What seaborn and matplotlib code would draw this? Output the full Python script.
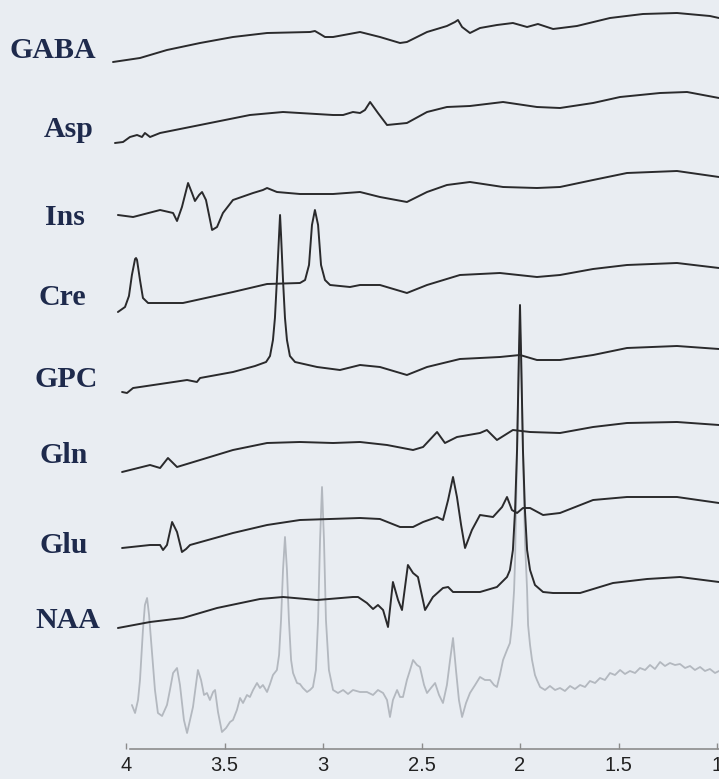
import matplotlib
matplotlib.use("Agg")
import matplotlib.pyplot as plt
import seaborn as sns
import pandas as pd

# ---- fitted metabolite basis traces (chemical shift in ppm, intensity a.u.) ----
gaba_ppm = [4.066, 3.929, 3.792, 3.624, 3.457, 3.284, 3.066, 3.041, 3.015, 2.990, 2.949, 2.812,
            2.711, 2.609, 2.574, 2.472, 2.371, 2.330, 2.315, 2.294, 2.254, 2.203, 2.117, 2.036,
            1.964, 1.909, 1.832, 1.711, 1.543, 1.376, 1.203, 1.036, 0.990]
gaba_amp = [0, 4, 12, 19, 25, 29, 30, 31, 28, 25, 25, 30, 25, 19, 20, 30, 36, 40, 42, 35, 29,
            34, 37, 39, 35, 38, 33, 36, 44, 48, 49, 46, 44]

asp_ppm = [4.056, 4.015, 3.980, 3.944, 3.919, 3.904, 3.878, 3.827, 3.624, 3.371, 3.203, 2.949,
           2.898, 2.848, 2.812, 2.787, 2.761, 2.721, 2.675, 2.574, 2.472, 2.371, 2.254, 2.086,
           1.914, 1.797, 1.629, 1.492, 1.289, 1.152, 0.990]
asp_amp = [0, 1, 6, 8, 6, 10, 6, 10, 18, 28, 31, 28, 28, 31, 30, 33, 41, 30, 18, 20, 31, 36,
           37, 41, 36, 35, 40, 46, 50, 51, 45]

ins_ppm = [4.041, 3.964, 3.827, 3.761, 3.741, 3.716, 3.685, 3.665, 3.650, 3.629, 3.614, 3.594,
           3.563, 3.538, 3.508, 3.457, 3.355, 3.305, 3.284, 3.234, 3.117, 2.949, 2.812, 2.711,
           2.574, 2.472, 2.371, 2.254, 2.086, 1.914, 1.797, 1.629, 1.457, 1.203, 0.990]
ins_amp = [0, -2, 5, 2, -6, 8, 32, 22, 14, 20, 23, 15, -15, -12, 2, 15, 22, 25, 27, 23, 21, 21,
           23, 18, 13, 23, 30, 33, 28, 27, 28, 35, 42, 44, 38]

cre_ppm = [4.041, 4.005, 3.985, 3.970, 3.954, 3.949, 3.944, 3.929, 3.914, 3.888, 3.711, 3.457,
           3.284, 3.117, 3.091, 3.071, 3.056, 3.041, 3.025, 3.010, 2.990, 2.964, 2.863, 2.812,
           2.711, 2.574, 2.472, 2.305, 2.102, 1.914, 1.797, 1.629, 1.457, 1.203, 0.990]
cre_amp = [0, 5, 16, 37, 53, 54, 52, 32, 14, 9, 9, 20, 28, 29, 32, 47, 87, 102, 87, 47, 32, 27,
           25, 27, 27, 19, 27, 37, 39, 35, 37, 43, 47, 49, 44]

gpc_ppm = [4.020, 3.995, 3.964, 3.929, 3.792, 3.690, 3.640, 3.624, 3.457, 3.345, 3.289, 3.269,
           3.254, 3.244, 3.234, 3.223, 3.218, 3.213, 3.203, 3.193, 3.183, 3.168, 3.142, 3.030,
           2.914, 2.812, 2.711, 2.574, 2.472, 2.305, 2.102, 2.000, 1.914, 1.797, 1.629, 1.457,
           1.203, 0.990]
gpc_amp = [0, -1, 4, 5, 9, 12, 10, 14, 20, 26, 30, 36, 52, 74, 112, 157, 177, 157, 112, 74, 52,
           36, 30, 25, 22, 27, 25, 17, 25, 33, 35, 37, 32, 32, 37, 44, 46, 43]

gln_ppm = [4.020, 3.878, 3.827, 3.787, 3.741, 3.624, 3.457, 3.284, 3.117, 2.949, 2.812, 2.675,
           2.543, 2.492, 2.421, 2.381, 2.320, 2.203, 2.168, 2.117, 2.036, 1.949, 1.797, 1.629,
           1.457, 1.203, 0.990]
gln_amp = [0, 7, 4, 14, 5, 12, 22, 29, 30, 29, 30, 27, 22, 25, 40, 29, 35, 39, 42, 32, 42, 40,
           39, 45, 49, 50, 47]

glu_ppm = [4.020, 3.878, 3.827, 3.812, 3.792, 3.766, 3.741, 3.716, 3.695, 3.675, 3.457, 3.284,
           3.117, 2.812, 2.711, 2.609, 2.543, 2.492, 2.421, 2.391, 2.365, 2.340, 2.320, 2.299,
           2.279, 2.244, 2.203, 2.137, 2.091, 2.066, 2.041, 2.015, 1.985, 1.949, 1.883, 1.797,
           1.629, 1.457, 1.203, 0.990]
glu_amp = [0, 3, 3, -2, 3, 26, 16, -4, -1, 3, 15, 23, 28, 30, 29, 21, 21, 26, 31, 28, 48, 71,
           51, 23, 0, 18, 33, 31, 41, 51, 38, 35, 40, 40, 33, 35, 48, 51, 51, 45]

naa_ppm = [4.041, 3.878, 3.711, 3.538, 3.320, 3.203, 3.030, 2.848, 2.822, 2.777, 2.746, 2.721,
           2.695, 2.670, 2.645, 2.619, 2.599, 2.569, 2.543, 2.518, 2.482, 2.442, 2.391, 2.365,
           2.340, 2.203, 2.117, 2.066, 2.051, 2.036, 2.025, 2.015, 2.010, 2.005, 2.000, 1.995,
           1.990, 1.985, 1.975, 1.964, 1.949, 1.924, 1.883, 1.832, 1.695, 1.528, 1.355, 1.188,
           0.990]
naa_amp = [0, 6, 10, 20, 29, 31, 28, 31, 31, 25, 19, 23, 18, 1, 46, 28, 18, 63, 55, 51, 18, 31,
           40, 41, 36, 36, 41, 51, 58, 78, 118, 178, 228, 278, 323, 278, 228, 178, 118, 78, 58,
           43, 36, 35, 35, 45, 49, 51, 46]

# ---- measured in-vivo spectrum (grey) ----
meas_ppm = [3.970, 3.954, 3.939, 3.929, 3.914, 3.904, 3.893, 3.883, 3.868, 3.853, 3.838, 3.817,
            3.792, 3.777, 3.761, 3.741, 3.726, 3.706, 3.690, 3.675, 3.660, 3.645, 3.635, 3.619,
            3.604, 3.589, 3.574, 3.558, 3.548, 3.533, 3.513, 3.492, 3.472, 3.457, 3.437, 3.421,
            3.406, 3.386, 3.371, 3.355, 3.335, 3.320, 3.305, 3.284, 3.269, 3.254, 3.234, 3.223,
            3.213, 3.203, 3.193, 3.183, 3.173, 3.162, 3.152, 3.132, 3.117, 3.102, 3.081, 3.066,
            3.051, 3.036, 3.025, 3.015, 3.005, 2.995, 2.985, 2.970, 2.949, 2.924, 2.898, 2.873,
            2.848, 2.812, 2.777, 2.746, 2.721, 2.695, 2.675, 2.660, 2.645, 2.624, 2.609, 2.594,
            2.574, 2.558, 2.543, 2.523, 2.508, 2.487, 2.472, 2.452, 2.431, 2.411, 2.391, 2.371,
            2.355, 2.340, 2.325, 2.310, 2.294, 2.274, 2.254, 2.228, 2.203, 2.178, 2.152, 2.132,
            2.117, 2.102, 2.086, 2.066, 2.051, 2.041, 2.030, 2.025, 2.015, 2.010, 2.005, 2.000,
            1.995, 1.990, 1.985, 1.975, 1.964, 1.959, 1.949, 1.939, 1.924, 1.914, 1.898, 1.873,
            1.848, 1.822, 1.797, 1.772, 1.746, 1.721, 1.695, 1.670, 1.645, 1.619, 1.594, 1.569,
            1.543, 1.518, 1.492, 1.467, 1.442, 1.416, 1.391, 1.365, 1.340, 1.315, 1.289, 1.264,
            1.239, 1.213, 1.188, 1.162, 1.137, 1.112, 1.086, 1.061, 1.036, 1.010, 0.990]
meas_amp = [2, -6, 7, 27, 77, 102, 109, 92, 54, 17, -6, -9, 2, 17, 34, 39, 22, -13, -26, -13, 0,
            22, 37, 27, 12, 14, 7, 15, 17, -5, -25, -21, -15, -13, -3, 9, 4, 12, 10, 17, 24, 19,
            22, 15, 23, 32, 37, 52, 87, 137, 170, 137, 87, 47, 34, 24, 23, 19, 15, 17, 20, 37, 87,
            167, 220, 167, 87, 37, 17, 14, 17, 13, 17, 15, 15, 12, 17, 14, 7, -10, 7, 17, 10, 10,
            27, 37, 47, 42, 40, 22, 14, 19, 24, 12, 4, 22, 47, 69, 37, 7, -10, 4, 14, 22, 30, 27,
            27, 22, 20, 32, 47, 57, 64, 82, 117, 147, 257, 307, 357, 377,
            357, 307, 257, 167, 117, 82, 62, 47, 32, 27, 20, 17,
            21, 17, 19, 16, 21, 18, 22, 20, 26, 24, 29, 27, 34, 32, 37, 33, 36, 34, 39, 37,
            42, 38, 45, 41, 44, 42, 43, 39, 41, 37, 40, 36, 38, 34, 36]

names = ["GABA", "Asp", "Ins", "Cre", "GPC", "Gln", "Glu", "NAA"]
tick_values = [4, 3.5, 3, 2.5, 2, 1.5, 1]
tick_labels = ["4", "3.5", "3", "2.5", "2", "1.5", "1"]

traces = [(gaba_ppm, gaba_amp), (asp_ppm, asp_amp), (ins_ppm, ins_amp), (cre_ppm, cre_amp),
          (gpc_ppm, gpc_amp), (gln_ppm, gln_amp), (glu_ppm, glu_amp), (naa_ppm, naa_amp)]

# ---- layout: vertical stacking offsets and label anchors ----
offsets = [687, 606, 534, 437, 357, 277, 201, 121]
meas_offset = 42
label_x = [4.589, 4.416, 4.411, 4.442, 4.467, 4.437, 4.437, 4.462]
label_y = [691, 612, 524, 444, 362, 286, 196, 121]

bg = "#e9edf2"
trace_color = "#2a2a2c"
meas_color = "#b3b8bf"
label_color = "#1e2a4c"

sns.set_theme(style="white")
plt.rcParams["font.family"] = ["Liberation Sans", "DejaVu Sans"]

W, H = 719, 779
fig = plt.figure(figsize=(W / 100, H / 100), dpi=100, facecolor=bg)
ax = fig.add_axes([0, 30 / H, 1, 749 / H])
ax.set_facecolor(bg)

# measured spectrum underneath
meas_df = pd.DataFrame({"ppm": meas_ppm, "y": [a + meas_offset for a in meas_amp]})
sns.lineplot(data=meas_df, x="ppm", y="y", ax=ax, color=meas_color, linewidth=1.3,
             estimator=None, sort=False)

for (ppm, amp), off in zip(traces, offsets):
    df = pd.DataFrame({"ppm": ppm, "y": [a + off for a in amp]})
    sns.lineplot(data=df, x="ppm", y="y", ax=ax, color=trace_color, linewidth=1.4,
                 estimator=None, sort=False)

for name, lx, ly in zip(names, label_x, label_y):
    ax.text(lx, ly, name, ha="left", va="baseline", color=label_color,
            fontsize=21.5, fontweight="bold", family=["Liberation Serif", "DejaVu Serif"])

ax.set_xlim(4 + 126 / 197, 4 - (W - 126) / 197)
ax.set_ylim(0, 749)
ax.set_xlabel("")
ax.set_ylabel("")
ax.set_yticks([])
ax.set_xticks(tick_values)
ax.set_xticklabels(tick_labels)
ax.tick_params(axis="x", direction="in", length=4, width=1, color="#8c8c8c",
               labelsize=14.5, labelcolor="#222222", pad=5, bottom=True)
for s in ["top", "left", "right"]:
    ax.spines[s].set_visible(False)
ax.spines["bottom"].set_color("#8c8c8c")
ax.spines["bottom"].set_linewidth(1.2)
ax.spines["bottom"].set_bounds(3.98, 4 - (W - 126) / 197)

fig.savefig("out.png", dpi=100, facecolor=bg)
